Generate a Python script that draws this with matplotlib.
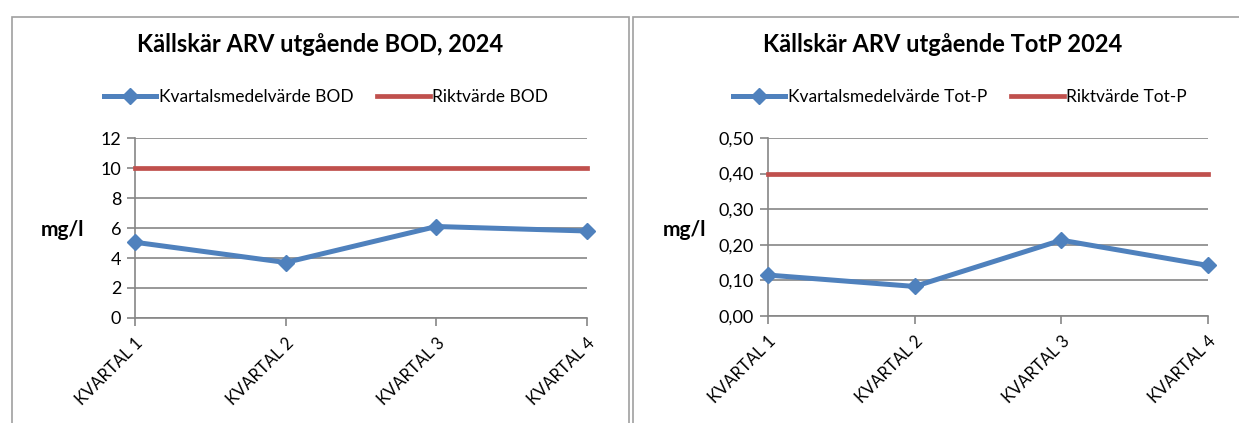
import matplotlib
matplotlib.use("Agg")
import matplotlib.pyplot as plt
from matplotlib.patches import Rectangle

plt.rcParams['font.family'] = ['Lato', 'DejaVu Sans']

quarters = ["KVARTAL 1", "KVARTAL 2", "KVARTAL 3", "KVARTAL 4"]
bod_values = [5.05, 3.7, 6.1, 5.8]
bod_limit = [10, 10, 10, 10]
totp_values = [0.115, 0.083, 0.213, 0.142]
totp_limit = [0.40, 0.40, 0.40, 0.40]

bod_ticks = [0, 2, 4, 6, 8, 10, 12]
totp_ticks = [0.0, 0.1, 0.2, 0.3, 0.4, 0.5]

W, H = 1239, 423
BLUE = '#4F81BD'
RED = '#C0504D'
GRID = '#868686'

fig = plt.figure(figsize=(W / 100, H / 100), dpi=100)


def px_axes(x0, x1, ytop, ybot):
    return fig.add_axes([x0 / W, 1 - ybot / H, (x1 - x0) / W, (ybot - ytop) / H])


def frame(x0, x1):
    fig.add_artist(Rectangle((x0 / W, -0.1), (x1 - x0) / W, 1.1 - 17 / H,
                             transform=fig.transFigure, fill=False,
                             edgecolor='#A0A0A0', lw=1.2))


def draw(ax, values, limit, ticks, fmt, title, name, tcx, lcx, ylx):
    x = range(len(quarters))
    l1, = ax.plot(x, values, color=BLUE, lw=3.6, marker='D', ms=8,
                  clip_on=False, zorder=4)
    l2, = ax.plot(x, limit, color=RED, lw=3.4, clip_on=False, zorder=3)
    ax.set_xlim(0, len(quarters) - 1)
    ax.set_ylim(ticks[0], ticks[-1])
    ax.set_yticks(ticks)
    ax.set_yticklabels([fmt(t) for t in ticks], fontsize=13)
    ax.set_xticks(list(x))
    ax.set_xticklabels(quarters, rotation=45, ha='right', va='top',
                       rotation_mode='anchor', fontsize=12)
    ax.grid(axis='y', color=GRID, lw=1.2)
    ax.set_axisbelow(True)
    for s in ['top', 'right']:
        ax.spines[s].set_visible(False)
    for s in ['left', 'bottom']:
        ax.spines[s].set_color(GRID)
        ax.spines[s].set_linewidth(1.2)
    ax.tick_params(axis='both', color=GRID, length=6, width=1.2, pad=4)
    ax.tick_params(axis='x', pad=6)
    fig.text(tcx / W, 1 - 45 / H, title, ha='center', va='center',
             fontsize=17, fontweight='bold')
    fig.text(ylx / W, 1 - 230 / H, 'mg/l', ha='center', va='center',
             fontsize=15, fontweight='bold')
    fig.legend([l1, l2], ['Kvartalsmedelvärde ' + name, 'Riktvärde ' + name],
               loc='center', bbox_to_anchor=(lcx / W, 1 - 97 / H), ncol=2,
               frameon=False, fontsize=12.5, handlelength=3.0,
               handletextpad=0.15, columnspacing=1.4)


frame(12, 629)
frame(633, 1250)

ax1 = px_axes(135, 587, 138, 318)
draw(ax1, bod_values, bod_limit, bod_ticks, lambda t: f"{t:d}",
     'Källskär ARV utgående BOD, 2024', 'BOD', 320, 326, 62)

ax2 = px_axes(768, 1208, 138, 316)
draw(ax2, totp_values, totp_limit, totp_ticks,
     lambda t: f"{t:.2f}".replace('.', ','),
     'Källskär ARV utgående TotP 2024', 'Tot-P', 943, 960, 685)

fig.savefig('out.png', dpi=100)
